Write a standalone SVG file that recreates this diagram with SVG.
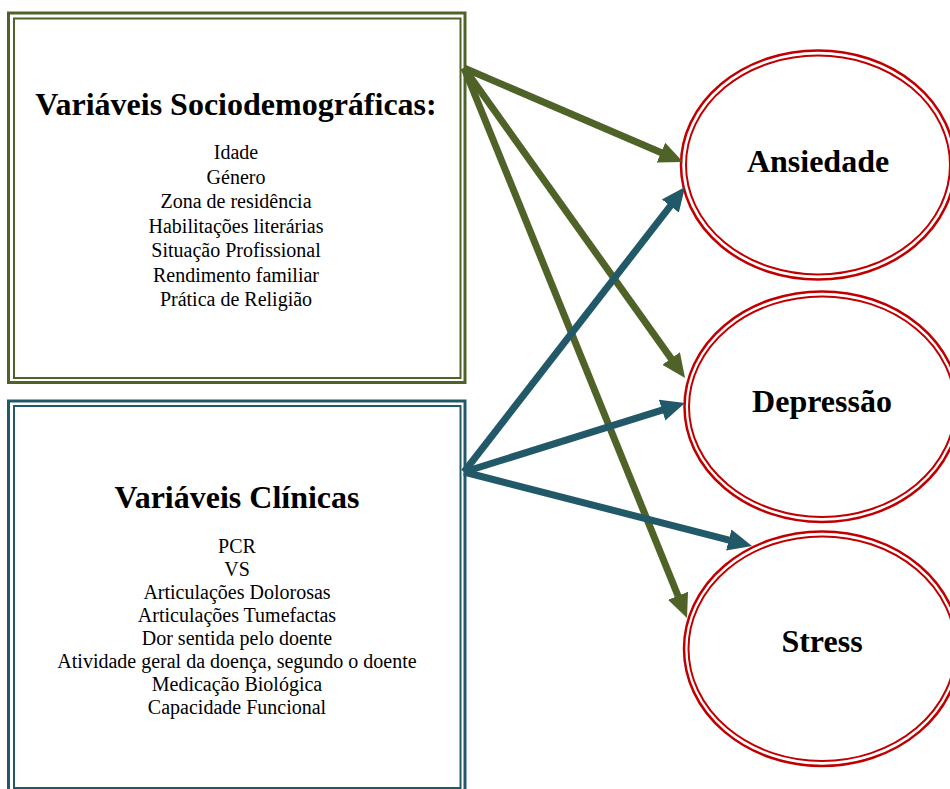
<svg xmlns="http://www.w3.org/2000/svg" width="950" height="789" viewBox="0 0 950 789">
<style>
.title{font-family:"Liberation Serif","Times New Roman",serif;font-weight:bold;font-size:32px;fill:#000;text-anchor:middle}
.body{font-family:"Liberation Serif","Times New Roman",serif;font-size:20px;fill:#000;text-anchor:middle}
.green{fill:none;stroke:#4F6228}
.teal{fill:none;stroke:#215968}
.red{fill:#fff;stroke:#C00000}
.ag{stroke:#4F6228;stroke-width:7;fill:none;marker-end:url(#hg)}
.at{stroke:#215968;stroke-width:7;fill:none;marker-end:url(#ht)}
</style>
<defs>
<marker id="hg" viewBox="0 0 10 10" markerUnits="userSpaceOnUse" markerWidth="24" markerHeight="24" refX="1" refY="5" orient="auto"><path d="M0,0.5 L10,5 L0,9.5 z" fill="#4F6228"/></marker>
<marker id="ht" viewBox="0 0 10 10" markerUnits="userSpaceOnUse" markerWidth="24" markerHeight="24" refX="1" refY="5" orient="auto"><path d="M0,0.5 L10,5 L0,9.5 z" fill="#215968"/></marker>
</defs>
<rect width="950" height="789" fill="#fff"/>
<g id="sociodemograficas">
<rect class="green" x="8.5" y="13" width="456.5" height="369.5" stroke-width="3"/>
<rect class="green" x="14" y="18.5" width="446.5" height="359.5" stroke-width="2"/>
<text class="title" x="236" y="115">Variáveis Sociodemográficas:</text>
<text class="body" x="236" y="159">Idade</text>
<text class="body" x="236" y="183.5">Género</text>
<text class="body" x="236" y="208">Zona de residência</text>
<text class="body" x="236" y="232.5">Habilitações literárias</text>
<text class="body" x="236" y="257">Situação Profissional</text>
<text class="body" x="236" y="281.5">Rendimento familiar</text>
<text class="body" x="236" y="306">Prática de Religião</text>
</g>
<g id="clinicas">
<rect class="teal" x="8.5" y="401" width="456.5" height="393" stroke-width="3"/>
<rect class="teal" x="14" y="406" width="446.5" height="382" stroke-width="2"/>
<text class="title" x="237" y="508">Variáveis Clínicas</text>
<text class="body" x="237" y="552.5">PCR</text>
<text class="body" x="237" y="575.5">VS</text>
<text class="body" x="237" y="598.5">Articulações Dolorosas</text>
<text class="body" x="237" y="621.5">Articulações Tumefactas</text>
<text class="body" x="237" y="644.5">Dor sentida pelo doente</text>
<text class="body" x="237" y="667.5">Atividade geral da doença, segundo o doente</text>
<text class="body" x="237" y="690.5">Medicação Biológica</text>
<text class="body" x="237" y="713.5">Capacidade Funcional</text>
</g>
<g id="ansiedade">
<ellipse class="red" cx="818" cy="165" rx="137" ry="114.5" stroke-width="2.5"/>
<ellipse class="red" cx="818" cy="165" rx="132" ry="109.5" stroke-width="2"/>
<text class="title" x="818" y="172">Ansiedade</text>
</g>
<g id="depressao">
<ellipse class="red" cx="822" cy="406.7" rx="137.5" ry="115.3" stroke-width="2.5"/>
<ellipse class="red" cx="822" cy="406.7" rx="133" ry="110.3" stroke-width="2"/>
<text class="title" x="822" y="412">Depressão</text>
</g>
<g id="stress">
<ellipse class="red" cx="822" cy="648.7" rx="138" ry="117.3" stroke-width="2.5"/>
<ellipse class="red" cx="822" cy="648.7" rx="133.5" ry="112.3" stroke-width="2"/>
<text class="title" x="822" y="652">Stress</text>
</g>
<g id="connectors">
<path class="ag" d="M464,68 L663.2,153.5"/>
<path class="ag" d="M464,68 L672.5,360.4"/>
<path class="ag" d="M464,68 L678.9,598"/>
<path class="at" d="M464,472 L671.8,204.1"/>
<path class="at" d="M464,472 L664.4,409.4"/>
<path class="at" d="M464,472 L731.1,540.6"/>
</g>
</svg>
